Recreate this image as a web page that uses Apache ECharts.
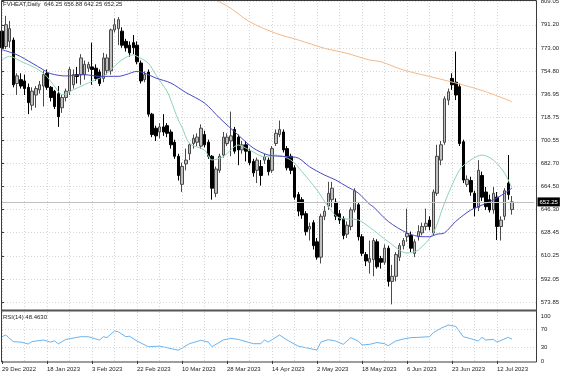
<!DOCTYPE html>
<html>
<head>
<meta charset="utf-8">
<script src="https://cdn.jsdelivr.net/npm/echarts@6/dist/echarts.min.js"></script>
<style>
  html, body { margin: 0; padding: 0; background: #fff; }
  #chartBox { width: 564px; height: 376px; }
</style>
</head>
<body>
<div id="chartBox"></div>
<script>
// trading days shown on the chart (last 6 are the empty shift area on the right)
var dates = [
  '2022-12-29','2022-12-30',
  '2023-01-03','2023-01-04','2023-01-05','2023-01-06','2023-01-09','2023-01-10','2023-01-11','2023-01-12','2023-01-13',
  '2023-01-17','2023-01-18','2023-01-19','2023-01-20','2023-01-23','2023-01-24','2023-01-25','2023-01-26','2023-01-27',
  '2023-01-30','2023-01-31','2023-02-01','2023-02-02','2023-02-03','2023-02-06','2023-02-07','2023-02-08','2023-02-09',
  '2023-02-10','2023-02-13','2023-02-14','2023-02-15','2023-02-16','2023-02-17','2023-02-21','2023-02-22','2023-02-23',
  '2023-02-24','2023-02-27','2023-02-28','2023-03-01','2023-03-02','2023-03-03','2023-03-06','2023-03-07','2023-03-08',
  '2023-03-09','2023-03-10','2023-03-13','2023-03-14','2023-03-15','2023-03-16','2023-03-17','2023-03-20','2023-03-21',
  '2023-03-22','2023-03-23','2023-03-24','2023-03-27','2023-03-28','2023-03-29','2023-03-30','2023-03-31','2023-04-03',
  '2023-04-04','2023-04-05','2023-04-06','2023-04-10','2023-04-11','2023-04-12','2023-04-13','2023-04-14','2023-04-17',
  '2023-04-18','2023-04-19','2023-04-20','2023-04-21','2023-04-24','2023-04-25','2023-04-26','2023-04-27','2023-04-28',
  '2023-05-01','2023-05-02','2023-05-03','2023-05-04','2023-05-05','2023-05-08','2023-05-09','2023-05-10','2023-05-11',
  '2023-05-12','2023-05-15','2023-05-16','2023-05-17','2023-05-18','2023-05-19','2023-05-22','2023-05-23','2023-05-24',
  '2023-05-25','2023-05-26','2023-05-30','2023-05-31','2023-06-01','2023-06-02','2023-06-05','2023-06-06','2023-06-07',
  '2023-06-08','2023-06-09','2023-06-12','2023-06-13','2023-06-14','2023-06-15','2023-06-16','2023-06-20','2023-06-21',
  '2023-06-22','2023-06-23','2023-06-26','2023-06-27','2023-06-28','2023-06-29','2023-06-30','2023-07-03','2023-07-05',
  '2023-07-06','2023-07-07','2023-07-10','2023-07-11','2023-07-12','2023-07-13','2023-07-14','2023-07-17','2023-07-18',
  '2023-07-19','2023-07-20','2023-07-21','2023-07-24','2023-07-25','2023-07-26'
];

// daily candles: [open, close, low, high]
var ohlc = [
  [786,773,771,790],[774,791,772,798],[778,788,773,794],[779,744,742,781],[745,751,736,753],
  [748,743,741,753],[747,741,736,752],[742,730,721,745],[728,739,724,742],[736,741,726,743],
  [740,744,737,747],[743,752,727,755],[753,742,740,756],[742,734,731,743],[739,727,725,740],
  [737,719,711,743],[726,734,722,736],[734,739,731,741],[739,756,736,758],[744,752,741,756],
  [752,750.5,745,758],[752,765,744,768],[752,760,748,763],[757,760,754,762],[758,756,744,777],
  [757,749,747,760],[754,745,743,756],[749,765,746,769],[755,765,752,768],[755,787,752,788],
  [787,791,785,796],[788,795,775,797],[786,775,773,789],[778,773,770,780],[775,769,766,778],
  [777,773,768,783],[775,762,760,778],[761,747,745,763],[748,752,746,754.5],[754,721,719,756],
  [721,705,703,722],[710,704,700,712],[707,711,702,714],[711,707,704,721],[712,706,703,714],
  [707,697,694,709],[699,688,686,701],[688,673,669,690],[666,680,660,683],[682,685,677,694],
  [690,697,685,698],[698,702,694,705],[699,703,696,706],[696,710,694,713],[705,697,695,708],
  [699,688,686,701],[688,663,654,689],[659,678,656,680],[677,688,675,690],[689,703,687,707],
  [698,703,696,706],[700,704,688,723],[709,692,690,711],[703,693,681,705],[693,697,690,700],
  [697,692,684,700],[692,683,681,694],[684,675,672,686],[677,685,667,687],[680,673,665,685],
  [685,687.7,682,690],[685,676,673,687],[677,694,675,696],[698,706,696,709],[705,709,703,716],
  [707,693,691,709],[694,679,677,696],[688,677,674,690],[679,656,654,681],[658,645,641,660],
  [654,642,639,656],[643,629,626,645],[631,633,622,636],[636,618,615,638],[621,609,607,624],
  [609,641,604,643],[641,645,638,649],[649,659,646,668],[654,663,648,668],[652,641,638,655],
  [643,638,635,646],[639,626,623,641],[627,634,624,637],[633,646,630,648],[646,661,644,663],
  [650,625,622,652],[625,612,610,627],[611,606,602,613],[605,608,596,622],[607,622,594,624],
  [621,601.5,600,623],[608,605,600,610],[605,616,603,619],[616,590,586,618],[590,594,572,603],
  [594,611,590,613],[609,618,606,620],[618,622,615,624],[625,627.5,621,647],[626,616,613,629],
  [612,621,609,623],[625,629,622,634],[628,633,626,636],[633,635.5,630,647],[638,633,630,641],
  [628,660,626,662],[659,688,657,697],[685,697,681,700],[699,733,697,735],[732,738.5,728,741],
  [749,744,740,753],[746,736,732,770],[742.5,698,696,745],[699.4,669.4,667,701],[666,670,664,673],
  [669,660,657,672],[659,647.5,641,661],[648,677,645,685],[673,656,653,676],[660,648.5,646,664],
  [654,646,644,658],[646,659,643,664],[656,633,622.4,660],[633,638,622,641],[641,661,638,663],
  [667,658,654,689],[646.25,652.25,642.25,656.88]
];

// moving averages: [bar index, price]
var maFast = [
  [0,763.6],[2,766.3],[5,762.4],[8,758.5],[11,753.2],[13,746.7],[15,738.9],[16,736.2],[19,740.1],
  [22,744.1],[24,746.7],[27,750.6],[30,758.5],[32,763.6],[35,767.5],[36,766.3],[39,761],[41,751.9],
  [44,738.9],[45,732.1],[47,716.4],[48,710.9],[50,698.1],[54,692.9],[56,685.1],[59,687.7],[63,696.8],
  [66,692.9],[70,687.7],[73,689],[77,685.1],[80,675.9],[84,661.6],[87,648.5],[90,639.6],[95,638.1],
  [99,630.2],[103,621.1],[108,612.2],[111,614.6],[115,627.9],[118,651.4],[122,677.2],[125,685.1],
  [128,689],[131,685.1],[134,674.9],[136,663.1]
];
var maSlow = [
  [0,771.5],[4,767.5],[8,761],[11,755.8],[13,752.7],[17,750.9],[22,751.9],[26,750.6],[31,750.6],
  [33,751.9],[36,754.5],[38,753.2],[41,749.3],[45,745.4],[49,738],[54,729.7],[58,718],[63,704.6],
  [67,694.5],[71,689],[76,687.7],[79,686.6],[82,679.8],[86,673.3],[89,669.4],[92,664.2],[95,659.2],
  [98,650.5],[99,648.5],[103,637],[108,628],[112,625],[114,625],[116,627],[118,628],[121,637],
  [125,645.9],[128,649.8],[132,655.3],[136,663]
];
var maLong = [
  [56,812.5],[57,810.6],[61,803.9],[66,793.4],[73,784.3],[79,779.1],[86,772.6],[92,768.6],[98,763.4],
  [101,762.1],[107,755.6],[116,749.1],[123,743.8],[129,738.6],[136,730.7]
];

// RSI(14): [bar index, value]
var rsi = [
  [0,54],[1,57.8],[3,43],[5,42],[7,37.8],[8,43],[11,46.7],[13,42],[14,45],[15,38],[17,48],[21,54],
  [23,54],[26,46.7],[27,54],[28,52],[30,66.7],[31,65],[33,54],[34,55],[36,44.4],[39,31.8],[42,33],
  [44,29.6],[47,24],[50,38.5],[53,46],[55,42],[56,31.8],[59,46.7],[61,50.4],[63,48],[67,38.5],
  [69,38.5],[70,46.7],[71,42],[74,57.8],[76,46.7],[79,33],[81,29.6],[84,24.4],[85,42],[87,47.4],
  [89,44.4],[91,37],[93,51.9],[95,44.4],[96,35.6],[98,37],[100,41],[102,38.5],[103,34],[105,44.4],
  [107,48.9],[109,51.9],[111,52.6],[114,54],[115,63],[117,72.6],[119,80],[121,77],[123,54],
  [125,49.6],[127,44.4],[128,52.6],[129,46.7],[131,48],[132,42.2],[135,52.6],[136,48.463]
];

var priceTicks = ['573.85','592.05','610.25','628.45','646.30','664.50','682.70','700.55',
                  '718.75','736.95','754.80','773.00','791.20','809.05'];
var rsiTicks = [0, 30, 70, 100];
var rsiLevels = [30, 70];
var months = ['Jan','Feb','Mar','Apr','May','Jun','Jul','Aug','Sep','Oct','Nov','Dec'];

var FONT = 'Liberation Sans';
var TXT = '#1e1e1e';
var GRIDC = '#d6d6d6';
var FRAME = '#3c3c3c';

var last = ohlc[ohlc.length - 1];
var headerText = 'FVHEAT,Daily  ' + last[0].toFixed(2) + ' ' + last[3].toFixed(2) + ' ' +
                 last[2].toFixed(2) + ' ' + last[1].toFixed(2);
var rsiText = 'RSI(14) ' + rsi[rsi.length - 1][1].toFixed(4);

function dateLabel(s) {
  var p = s.split('-');
  return (+p[2]) + ' ' + months[+p[1] - 1] + ' ' + p[0];
}
function everyN(n) {
  return function (i) { return i % n === 0 && i < ohlc.length; };
}

var chart = echarts.init(document.getElementById('chartBox'));

var option = {
  animation: false,
  backgroundColor: '#fff',
  title: [
    { text: headerText, left: 3, top: 1, padding: 0,
      textStyle: { fontSize: 6, fontWeight: 'normal', color: TXT, fontFamily: FONT } },
    { text: rsiText, left: 3, top: 314, padding: 0,
      textStyle: { fontSize: 6, fontWeight: 'normal', color: TXT, fontFamily: FONT } }
  ],
  grid: [
    { left: 2, top: 0, width: 532.5, height: 310, outerBoundsMode: 'none' },     // price data
    { left: 1, top: 1.7, width: 535.7, height: 300.3, outerBoundsMode: 'none' }, // price labels
    { left: 2, top: 312, width: 532.5, height: 50, outerBoundsMode: 'none' },    // rsi data
    { left: 1, top: 316, width: 535.7, height: 45, outerBoundsMode: 'none' }     // rsi labels
  ],
  xAxis: [
    { gridIndex: 0, type: 'category', data: dates, boundaryGap: false,
      axisLine: { show: false }, axisTick: { show: false }, axisLabel: { show: false },
      splitLine: { show: true, interval: everyN(6), lineStyle: { color: GRIDC, type: [1, 2] } } },
    { gridIndex: 1, type: 'value', show: false, min: 0, max: 1 },
    { gridIndex: 2, type: 'category', data: dates, boundaryGap: false,
      axisLine: { show: false },
      axisTick: { show: true, interval: everyN(12), length: 3, lineStyle: { color: FRAME } },
      axisLabel: { show: true, interval: everyN(12), align: 'left', margin: 4,
        fontSize: 6, color: TXT, fontFamily: FONT, formatter: dateLabel },
      splitLine: { show: true, interval: everyN(6), lineStyle: { color: GRIDC, type: [1, 2] } } },
    { gridIndex: 3, type: 'value', show: false, min: 0, max: 1 }
  ],
  yAxis: [
    { gridIndex: 0, type: 'value', min: 567.6, max: 810.4, show: false },
    { gridIndex: 1, type: 'category', data: priceTicks, boundaryGap: false, position: 'right',
      axisLine: { show: false },
      axisTick: { show: true, length: 3, lineStyle: { color: FRAME } },
      axisLabel: { interval: 0, margin: 4, fontSize: 6, color: TXT, fontFamily: FONT },
      splitLine: { show: true, lineStyle: { color: GRIDC, type: [1, 2] } } },
    { gridIndex: 2, type: 'value', min: -2.2, max: 108.9, show: false },
    { gridIndex: 3, type: 'value', min: 0, max: 100, interval: 10, position: 'right',
      axisLine: { show: false }, axisTick: { show: false }, splitLine: { show: false },
      axisLabel: { margin: 4, fontSize: 6, color: TXT, fontFamily: FONT,
        formatter: function (v) { return rsiTicks.indexOf(v) >= 0 ? String(v) : ''; } } }
  ],
  series: [
    {
      name: 'FVHEAT', type: 'candlestick', xAxisIndex: 0, yAxisIndex: 0,
      data: ohlc, barWidth: 3,
      itemStyle: { color: '#c0c0c0', color0: '#000000', borderColor: '#4a4a4a',
                   borderColor0: '#000000', borderWidth: 1 },
      markLine: {
        silent: true, symbol: 'none', animation: false,
        lineStyle: { color: '#c0c0c0', type: 'solid', width: 1 },
        label: { show: true, position: 'end', distance: 3, formatter: last[1].toFixed(2),
                 backgroundColor: '#000', color: '#fff', fontSize: 6, fontFamily: FONT,
                 padding: [2, 2, 1, 2] },
        data: [{ yAxis: last[1] }]
      }
    },
    { name: 'MA fast', type: 'line', xAxisIndex: 0, yAxisIndex: 0, data: maFast,
      showSymbol: false, smooth: 0.3, lineStyle: { color: '#8fd4b4', width: 1 } },
    { name: 'MA slow', type: 'line', xAxisIndex: 0, yAxisIndex: 0, data: maSlow,
      showSymbol: false, smooth: 0.3, lineStyle: { color: '#4848c8', width: 1 } },
    { name: 'MA long', type: 'line', xAxisIndex: 0, yAxisIndex: 0, data: maLong,
      showSymbol: false, smooth: 0.3, lineStyle: { color: '#f2b889', width: 1 } },
    {
      name: 'RSI', type: 'line', xAxisIndex: 2, yAxisIndex: 2, data: rsi,
      showSymbol: false, lineStyle: { color: '#6ab4f0', width: 1 },
      markLine: {
        silent: true, symbol: 'none', animation: false, label: { show: false },
        lineStyle: { color: GRIDC, type: [1, 2], width: 1 },
        data: rsiLevels.map(function (v) { return { yAxis: v }; })
      }
    }
  ],
  graphic: [
    { type: 'rect', z: 100, silent: true,
      shape: { x: 1.5, y: 0.5, width: 535, height: 361.5 },
      style: { fill: null, stroke: FRAME, lineWidth: 1 } },
    { type: 'line', z: 100, silent: true,
      shape: { x1: 1.5, y1: 310.5, x2: 536.5, y2: 310.5 },
      style: { stroke: '#555', lineWidth: 2 } }
  ]
};

chart.setOption(option);
window.onresize = chart.resize;
</script>
</body>
</html>
